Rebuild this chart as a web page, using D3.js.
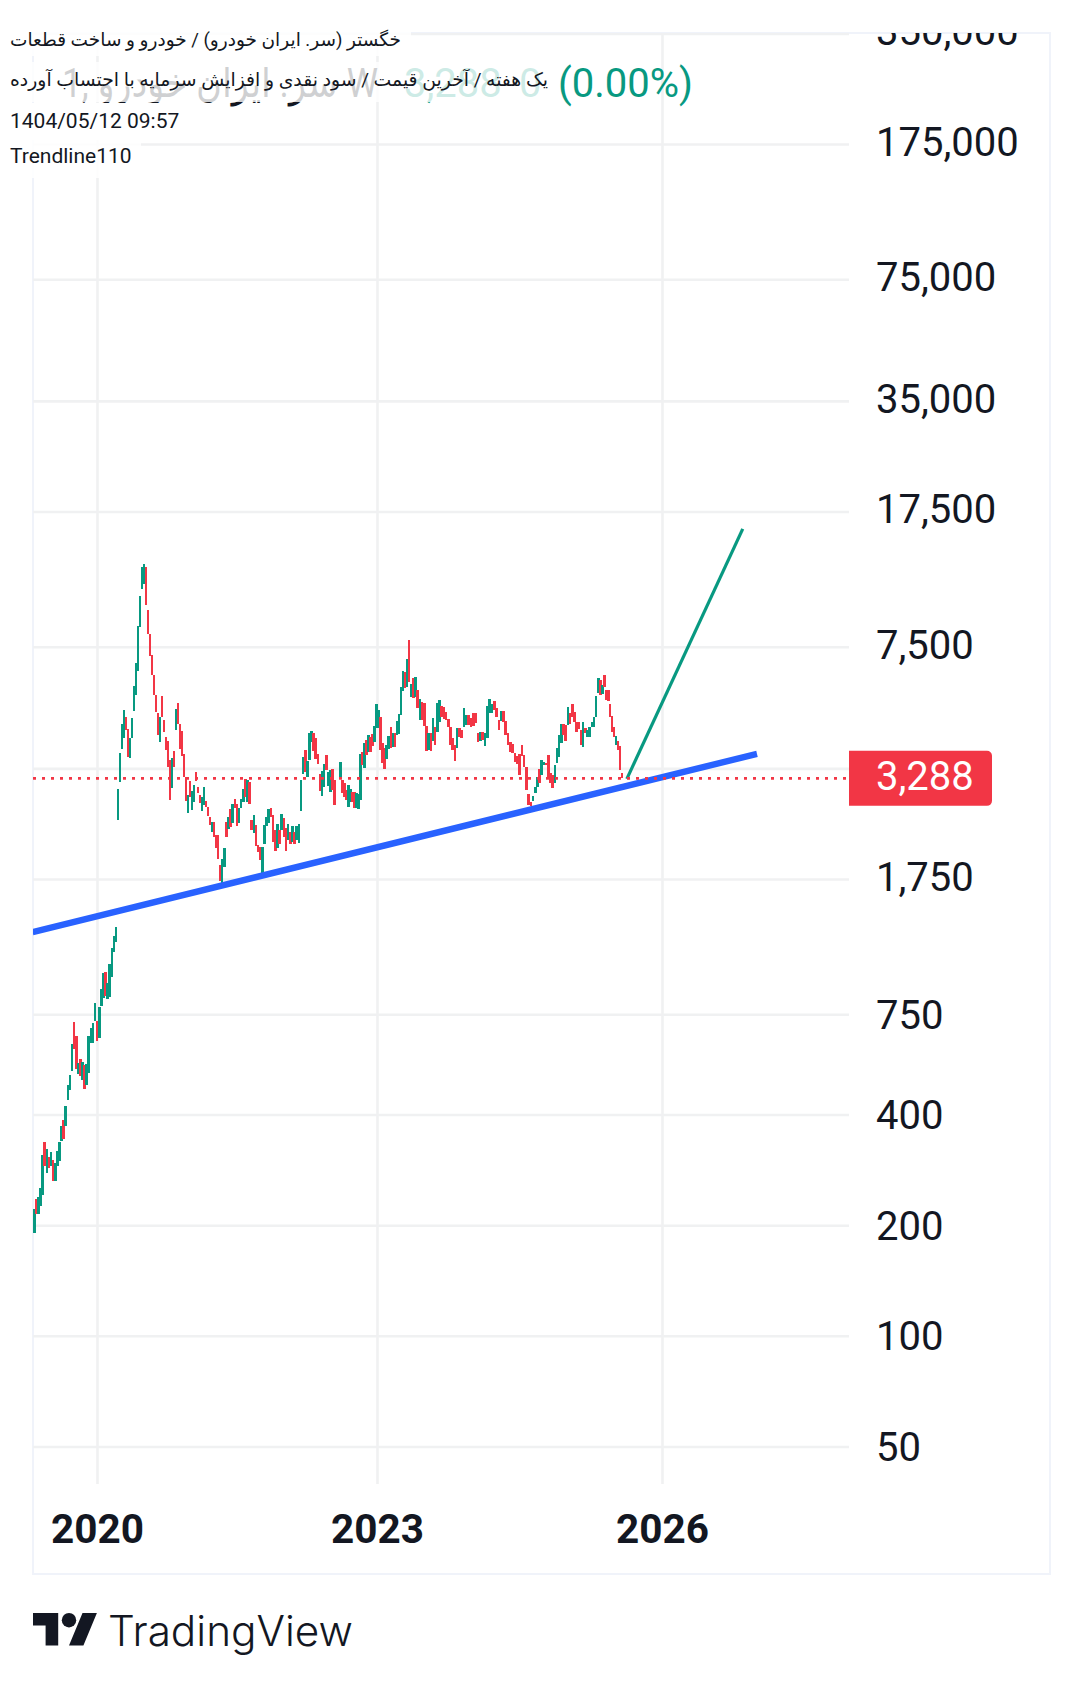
<!DOCTYPE html>
<html><head><meta charset="utf-8">
<script src="https://cdnjs.cloudflare.com/ajax/libs/d3/7.8.5/d3.min.js"></script>
<style>html,body{margin:0;padding:0;background:#fff}svg{display:block}</style>
</head><body><svg id="c" width="1083" height="1688"></svg>
<script>
// [open, close] weekly candles
const candlesA = [[191,221],[236,215],[215,239],[225,252],[242,310],[336,290],[277,322],[306,286],[290,316],[301,264],[264,295],[290,318],[299,336],[339,372],[387,343],[372,422],[438,481],[466,512],[526,622],[714,603],[654,532],[515,553],[566,509],[496,556],[545,469],[481,549],[518,654],[626,687],[626,710],[719,804],[719,634],[646,784],[789,878],[830,970],[976,840],[825,912],[835,1027],[947,1135],[1107,1221],[1179,1292]];
const candlesB = [[2534,3077],[3216,3857],[3955,4626],[4238,5051],[4835,4456],[4484,3762],[3739,4238],[4238,4804],[5019,5871],[5550,6783],[6450,8555],[8500,10324],[10788,12380],[11130,12620],[12380,9758],[9456,8135],[8135,7095],[7140,6290],[6290,5550],[5550,4980],[4957,4318],[4132,4835],[5516,4835],[4744,4400],[4264,3930],[4159,3533],[3692,2872],[3096,3739],[3905,3533],[4456,5083],[5278,4626],[4626,3955],[4428,3786],[3833,3318],[3318,2854],[2647,2963],[3236,2926],[2698,3039],[2836,3156],[3424,3236],[3116,3000],[2963,2818],[2681,2926],[2783,3116],[2854,2749],[2749,2599],[2582,2456],[2350,2502],[2502,2278],[2307,2125],[2307,1984],[1911,1728],[1707,1984],[1887,2125],[2502,2278],[2395,2582],[2715,2425],[2487,2801],[2890,2732],[2801,2441],[2487,2732],[2732,2890],[2836,3077],[3277,2926],[2836,3256],[3216,2801],[2534,2380],[2336,2615],[2456,2153],[2166,2074],[2138,1972],[1813,2138],[2180,2456],[2441,2582],[2487,2715],[2732,2582],[2615,2208],[2380,2086],[2125,2471],[2380,2180],[2380,2631],[2566,2278],[2410,2086],[2235,2471],[2350,2180],[2208,2441],[2350,2180],[2235,2441],[2194,2471],[2681,3256],[3381,3762],[3930,3424],[3318,3669],[3692,4372],[4132,4428],[4372,3905],[4238,3715],[3833,3600],[3381,3039],[2945,3445],[3116,3600],[3810,3467],[3136,3424],[3020,3467],[3489,3058],[3256,2783]];
const candlesC = [[3298,3647],[3256,3000],[3196,2926],[3058,2872],[2749,3156],[2836,3077],[3020,2836],[3020,2732],[2732,3000],[2715,2982],[2872,3833],[3881,3577],[3511,4107],[4185,3810],[3881,4318],[4264,3881],[4345,4030],[4132,4569],[4512,5245],[4512,5051],[4835,3930],[4107,3623],[3980,3489],[3715,4055],[3955,4291],[4540,3980],[4005,4372],[4372,4005],[4318,4714],[4345,4926],[4896,5835],[5690,6450],[6410,5798],[5835,6955],[7834,6022],[5480,5945],[6174,5446],[5480,6212],[5726,5115],[4744,5412],[5312,4744],[5278,4569],[4569,3905],[3930,4372],[4372,3905],[4159,4804],[4540,4055],[4400,5278],[4686,5380],[5180,4835],[5148,4774],[4988,4744],[4774,4540],[4540,4055],[4238,3930],[4055,3669],[3980,4512],[4512,4264],[4456,4238],[4540,5115],[4597,4896],[4896,4597],[4804,4540],[4957,4569],[4957,4655],[4372,4132],[4159,4400],[4400,4185],[4030,4372],[4238,5180],[4957,5412],[4957,5245],[5346,5051],[5115,4835],[4744,4456],[4714,5019],[5019,4686],[4714,4318],[4372,4055],[4132,3881],[4081,3857],[3857,3647],[3786,3600],[3833,3360],[4055,3786],[3810,3533],[3533,3058],[2982,2783],[2836,2766],[2854,2945],[3000,3116],[3116,3318],[3489,3196],[3360,3692],[3577,3647],[3623,3577],[3810,3298],[3402,3196],[3360,3096],[3196,3577],[3623,3980],[3762,4318],[4107,4626],[4626,4318],[4597,4159],[4597,5148],[4957,4626],[5245,4835],[4988,4686],[4686,4400],[4686,4484],[4456,4055],[4005,4686],[4512,4372],[4264,4456],[4264,4540],[4540,4686],[4540,4835],[4835,5516],[5619,6174],[6097,5550],[5584,5908],[6290,5835],[5726,5379],[5726,5346],[5245,4835],[4865,4400],[4540,4264],[4055,4291],[4159,3930],[4030,3467],[3402,3298]];
// dates of known candles within each run: bar number -> year
const knotsA = [[0,2019.328],[39,2020.204]];
const knotsB = [[0,2020.225],[13,2020.504],[51,2021.318],[71,2021.771],[89,2022.186],[105,2022.547]];
const knotsC = [[0,2022.611],[20,2023.039],[34,2023.337],[56,2023.842],[70,2024.186],[87,2024.597],[119,2025.33],[131,2025.579]];
const yTicks = [350000,175000,75000,35000,17500,7500,3500,1750,750,400,200,100,50];
const xTicks = [2020,2023,2026];
const lastPrice = 3288;
const blueTrend = [[2019.31,1255],[2027.0,3833]];
const greenTrend = [[2025.63,3277],[2026.85,15695]];
const headerRows = ["خگستر (سر. ایران خودرو) / خودرو و ساخت قطعات","یک هفته / آخرین قیمت / سود نقدی و افزایش سرمایه با احتساب آورده","1404/05/12 09:57","Trendline110"];

const RED="#f23645",GREEN="#089981",BLUE="#2962ff",INK="#131722",GRID="#f0f1f2",FRAME="#f0f3fa";
const FONT="Roboto,'Noto Sans','DejaVu Sans',sans-serif";
const L=33,R=849,T=33,B=1484,FR=1050,FB=1574;
const svg=d3.select("#c");
const y=d3.scaleLog().domain([1750,175000]).range([879,144]);
const x=d3.scaleLinear().domain(xTicks).range([97,377,662]);

const defs=svg.append("defs");
defs.append("clipPath").attr("id","plot").append("rect").attr("x",L).attr("y",T).attr("width",R-L).attr("height",B-T);
defs.append("clipPath").attr("id","axis").append("rect").attr("x",R).attr("y",T).attr("width",FR-R).attr("height",B-T);

const frame=svg.append("g").attr("stroke",FRAME).attr("stroke-width",2).attr("fill","none");
frame.append("rect").attr("x",L).attr("y",T).attr("width",FR-L).attr("height",FB-T);

const plot=svg.append("g").attr("clip-path","url(#plot)");
const gy=plot.append("g").attr("transform",`translate(${R},0)`)
  .call(d3.axisLeft(y).tickValues(yTicks).tickSize(R-L).tickFormat(""));
gy.select(".domain").remove();
gy.selectAll("line").attr("stroke",GRID).attr("stroke-width",2.6);
const gx=plot.append("g").attr("transform",`translate(0,${B})`)
  .call(d3.axisTop(x).tickValues(xTicks).tickSize(B-T).tickFormat(""));
gx.select(".domain").remove();
gx.selectAll("line").attr("stroke",GRID).attr("stroke-width",2.6);

[[candlesA,knotsA],[candlesB,knotsB],[candlesC,knotsC]].forEach(([bars,knots])=>{
  const t=d3.scaleLinear().domain(knots.map(k=>k[0])).range(knots.map(k=>k[1]));
  plot.append("g").attr("shape-rendering","crispEdges").selectAll("rect").data(bars).join("rect")
    .attr("x",(d,i)=>x(t(i))-1.3).attr("width",2.6)
    .attr("y",d=>y(Math.max(d[0],d[1])))
    .attr("height",d=>Math.abs(y(d[0])-y(d[1])))
    .attr("fill",d=>d[1]>=d[0]?GREEN:RED);
});

const ln=d3.line().x(d=>x(d[0])).y(d=>y(d[1]));
plot.append("path").attr("d",ln(greenTrend)).attr("stroke",GREEN).attr("stroke-width",3.2).attr("fill","none");
plot.append("path").attr("d",ln(blueTrend)).attr("stroke",BLUE).attr("stroke-width",6.4).attr("fill","none");
plot.append("line").attr("x1",L).attr("x2",R).attr("y1",y(lastPrice)).attr("y2",y(lastPrice))
  .attr("stroke",RED).attr("stroke-width",2.8).attr("stroke-dasharray","3 6");

const ay=svg.append("g").attr("clip-path","url(#axis)");
const axY=ay.append("g").attr("transform","translate(876,0)")
  .call(d3.axisRight(y).tickValues(yTicks).tickSize(0).tickPadding(0).tickFormat(d3.format(",")));
axY.select(".domain").remove();
axY.selectAll("text").attr("font-family",FONT).attr("font-size",40).attr("fill",INK).attr("x",0)
  .attr("transform",d=>`translate(0,${d<1000?1:-1.5})`);

const py=y(lastPrice);
svg.append("path").attr("d",`M${R},${py-27.5}H987a5,5 0 0 1 5,5V${py+22.5}a5,5 0 0 1 -5,5H${R}Z`).attr("fill",RED);
svg.append("text").attr("x",876).attr("y",py-1).attr("dy","0.32em").attr("font-family",FONT).attr("font-size",40).attr("fill","#fff").text(d3.format(",")(lastPrice));

const axX=svg.append("g").attr("transform","translate(0,1543)")
  .call(d3.axisBottom(x).tickValues(xTicks).tickSize(0).tickPadding(0).tickFormat(d3.format("d")));
axX.select(".domain").remove();
axX.selectAll("text").attr("font-family",FONT).attr("font-weight",700).attr("font-size",40.5).attr("fill",INK).attr("y",0).attr("dy",0);

const big=svg.append("g").attr("font-family",FONT).attr("font-size",40);
big.append("text").attr("x",62).attr("y",96.5).attr("fill",INK).attr("direction","ltr")
  .attr("textLength",316).attr("lengthAdjust","spacingAndGlyphs")
  .text("1, \u202Bسر. ایران خودرو\u202C W");
big.append("text").attr("x",404).attr("y",96.5).attr("fill",GREEN).text("3,288");
big.append("text").attr("x",519).attr("y",96.5).attr("fill",GREEN).text("0");
big.append("text").attr("x",558).attr("y",96.5).attr("fill",GREEN).text("(0.00%)");

const rows=[[24,32,411,.85],[62,40,555,.8],[103,37,186,1],[140,38,141,.85]];
svg.append("g").selectAll("rect").data(rows).join("rect")
  .attr("x",0).attr("y",d=>d[0]).attr("height",d=>d[1]).attr("width",d=>d[2]).attr("fill","#fff").attr("fill-opacity",d=>d[3]);
const hdr=svg.append("g").attr("font-family",FONT).attr("fill",INK);
hdr.append("text").attr("x",10).attr("y",46).attr("font-size",18.5).attr("textLength",391).attr("lengthAdjust","spacingAndGlyphs").text("\u202B"+headerRows[0]+"\u202C");
hdr.append("text").attr("x",10).attr("y",86).attr("font-size",18.5).attr("textLength",538).attr("lengthAdjust","spacingAndGlyphs").text("\u202B"+headerRows[1]+"\u202C");
hdr.append("text").attr("x",10).attr("y",128).attr("font-size",21).text(headerRows[2]);
hdr.append("text").attr("x",10).attr("y",163).attr("font-size",21).text(headerRows[3]);

const logo=svg.append("g").attr("transform","translate(33,1605.8) scale(1.8)").attr("fill",INK);
logo.append("path").attr("d","M14 22H7V11H0V4h14v18zM28 22h-8l7.5-18h8L28 22z");
logo.append("circle").attr("cx",20).attr("cy",8).attr("r",4);
svg.append("text").attr("x",108).attr("y",1646).attr("font-family","Inter,Roboto,sans-serif").attr("font-weight",300)
  .attr("font-size",42).attr("fill",INK).attr("textLength",245).attr("lengthAdjust","spacingAndGlyphs").text("TradingView");
</script></body></html>
